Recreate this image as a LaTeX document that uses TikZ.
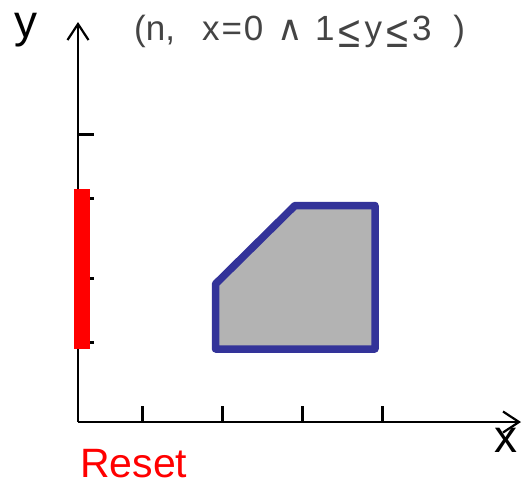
\documentclass[tikz,border=0pt]{standalone}
\usepackage{fontspec}
\setmainfont{Liberation Sans}
\newfontfamily\symfont{DejaVu Sans}
\usetikzlibrary{arrows.meta}
\definecolor{regionfill}{HTML}{B3B3B3}
\definecolor{regionedge}{HTML}{333399}
\definecolor{titlegray}{HTML}{444444}
\newcommand{\myle}{\hspace{4pt}\raisebox{-7pt}{\resizebox{22pt}{27pt}{≤}}\hspace{4pt}}
\tikzset{
  axisline/.style={line width=2.2pt, black},
  axisarrow/.style={-{Straight Barb[length=16pt,width=21pt,line width=2.2pt]}},
  tickmark/.style={line width=3pt, black},
  region/.style={fill=regionfill, draw=regionedge, line width=7.5pt, line join=round},
  resetbar/.style={fill=red, draw=none},
  lbl/.style={inner sep=0pt, anchor=base},
}
\begin{document}
\begin{tikzpicture}[x=1pt,y=-1pt]
\useasboundingbox (0,0) rectangle (523,483);
\coordinate (O) at (78,422);
\coordinate (Ytop) at (78,22);
\coordinate (Xend) at (521,422);
% ticks
\foreach \t in {142,222,302,382} \draw[tickmark] (\t,422) -- (\t,406);
\foreach \t in {134,198,278,342} \draw[tickmark] (78,\t) -- (94,\t);
% axes
\draw[axisline,axisarrow] (O) -- (Ytop);
\draw[axisline,axisarrow] (O) -- (Xend);
% red bar
\fill[resetbar] (74,189) rectangle (90,349);
% region
\draw[region] (215.5,349) -- (215.5,284) -- (295,205.5) -- (375,205.5) -- (375,349) -- cycle;
% labels
\node[lbl] (ylab) at (26,37) {\fontsize{46}{46}\selectfont y};
\node[lbl] (xlab) at (506,452) {\fontsize{46}{46}\selectfont x};
\node[lbl, anchor=base west, text=red] (reset) at (80,477) {\fontsize{41}{41}\selectfont Reset};
\node[lbl, anchor=base west, text=titlegray] (title) at (134,40)
  {\fontsize{35}{35}\selectfont (n,\hspace{27pt}x\hspace{2pt}=\hspace{2pt}0\hspace{14pt}{\symfont ∧}\hspace{12pt}1\myle y\myle 3\hspace{22pt})};
\end{tikzpicture}
\end{document}
